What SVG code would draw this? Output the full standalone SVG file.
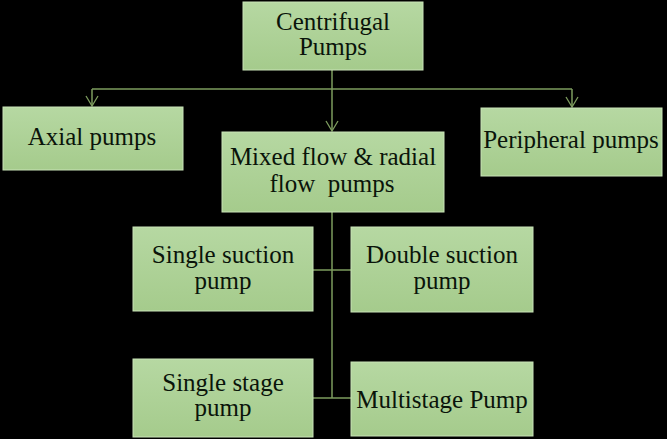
<svg xmlns="http://www.w3.org/2000/svg" width="667" height="439" viewBox="0 0 667 439">
<defs>
<linearGradient id="g" x1="0" y1="0" x2="0" y2="1">
<stop offset="0" stop-color="#b6d8a2"/>
<stop offset="1" stop-color="#a5cb8c"/>
</linearGradient>
<marker id="arr" viewBox="0 0 12 14" refX="11" refY="7" markerWidth="12" markerHeight="14" markerUnits="userSpaceOnUse" orient="auto">
<path d="M1,1 L11,7 L1,13" fill="none" stroke="#7d9c5e" stroke-width="1.3"/>
</marker>
</defs>
<style>
.box{fill:url(#g);stroke:#c9e3b8;stroke-width:1}
.t{font-size:25px;fill:#0a140a;text-anchor:middle}
.c{fill:none;stroke:#7d9c5e;stroke-width:1.5}
</style>
<rect width="667" height="439" fill="#000"/>
<g id="connectors">
<path class="c" d="M332,70 V89"/>
<path class="c" d="M92,89 H572"/>
<path class="c" d="M92,89 V106" marker-end="url(#arr)"/>
<path class="c" d="M572,89 V107" marker-end="url(#arr)"/>
<path class="c" d="M332,89 V131" marker-end="url(#arr)"/>
<path class="c" d="M332,212 V398"/>
<path class="c" d="M313,270 H351"/>
<path class="c" d="M313,398 H351"/>
</g>
<g font-family="'Liberation Serif', 'Times New Roman', 'DejaVu Serif', serif">
<g id="centrifugal">
<rect class="box" x="243" y="2" width="180" height="68"/>
<text class="t" x="333" y="30">Centrifugal</text>
<text class="t" x="333" y="55">Pumps</text>
</g>
<g id="axial">
<rect class="box" x="3" y="107" width="180" height="63"/>
<text class="t" x="92" y="145">Axial pumps</text>
</g>
<g id="peripheral">
<rect class="box" x="481" y="108" width="181" height="68"/>
<text class="t" x="571" y="148">Peripheral pumps</text>
</g>
<g id="mixed">
<rect class="box" x="222" y="132" width="222" height="80"/>
<text class="t" x="333" y="165">Mixed flow &amp; radial</text>
<text class="t" x="332" y="192" xml:space="preserve">flow  pumps</text>
</g>
<g id="single-suction">
<rect class="box" x="133" y="227" width="180" height="84"/>
<text class="t" x="223" y="263">Single suction</text>
<text class="t" x="223" y="289">pump</text>
</g>
<g id="double-suction">
<rect class="box" x="351" y="227" width="182" height="85"/>
<text class="t" x="442" y="263">Double suction</text>
<text class="t" x="442" y="289">pump</text>
</g>
<g id="single-stage">
<rect class="box" x="133" y="359" width="180" height="78"/>
<text class="t" x="223" y="391">Single stage</text>
<text class="t" x="223" y="416">pump</text>
</g>
<g id="multistage">
<rect class="box" x="351" y="362" width="182" height="74"/>
<text class="t" x="442" y="408">Multistage Pump</text>
</g>
</g>
</svg>
